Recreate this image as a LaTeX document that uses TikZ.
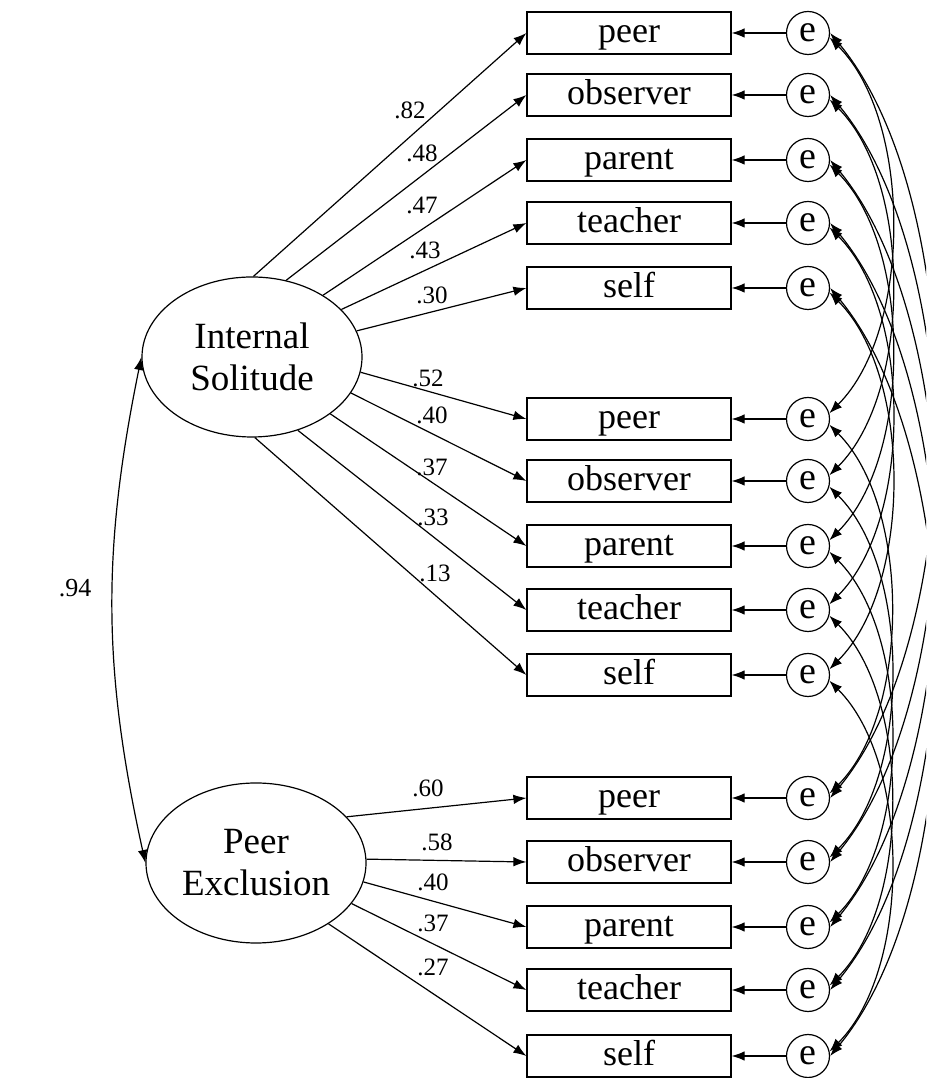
\documentclass[tikz,border=0pt]{standalone}
\usepackage{fontspec}
\setmainfont{Liberation Serif}
\usetikzlibrary{arrows.meta,shapes.geometric}
\begin{document}
\begin{tikzpicture}[x=1pt,y=1pt,
  arr/.style={-{Latex[length=13pt,width=9.5pt]}, line width=1.2pt},
  darr/.style={{Latex[length=13pt,width=9.5pt]}-{Latex[length=13pt,width=9.5pt]}, line width=1.2pt},
  obs/.style={draw, line width=1.2pt, minimum width=204pt, minimum height=42pt, inner sep=0pt, text height=26pt, text depth=7pt, font=\fontsize{36}{42}\selectfont},
  err/.style={draw, circle, line width=1.2pt, minimum size=43pt, inner sep=0pt, font=\fontsize{38}{42}\selectfont},
  lat/.style={draw, ellipse, line width=1.2pt, minimum width=220pt, minimum height=160pt, inner sep=0pt, align=center, font=\fontsize{37}{42}\selectfont},
  lab/.style={font=\fontsize{25}{28}\selectfont, inner sep=0pt},
]
\useasboundingbox (0,0) rectangle (926,1078);
\clip (0,0) rectangle (926,1078);

\node[lat] (IS) at (252,721) {Internal\\Solitude};
\node[lat] (PE) at (256,215) {Peer\\Exclusion};

\foreach \n/\y/\t in {11/1045/peer, 12/983/observer, 13/918/parent, 14/855/teacher, 15/790/self,
                      21/659/peer, 22/597/observer, 23/532/parent, 24/468/teacher, 25/403/self,
                      31/280/peer, 32/216/observer, 33/151/parent, 34/88/teacher, 35/22/self}{
  \node[obs] (b\n) at (629,\y) {\t};
  \node[err] (e\n) at (808,\y) {e};
  \draw[arr] (e\n) -- (b\n);
}

% loadings
\draw[arr] (IS.89) -- (b11.west);
\draw[arr] (IS.66) -- (b12.west);
\draw[arr] (IS.41) -- (b13.west);
\draw[arr] (IS.28) -- (b14.west);
\draw[arr] (IS.14) -- (b15.west);
\draw[arr] (IS.-8) -- (b21.west);
\draw[arr] (IS.-20) -- (b22.west);
\draw[arr] (IS.-36) -- (b23.west);
\draw[arr] (IS.-58) -- (b24.west);
\draw[arr] (IS.-88) -- (b25.west);
\draw[arr] (PE.27) -- (b31.west);
\draw[arr] (PE.2) -- (b32.west);
\draw[arr] (PE.-10) -- (b33.west);
\draw[arr] (PE.-23) -- (b34.west);
\draw[arr] (PE.-40) -- (b35.west);

\node[lab] (l11) at (410,968) {.82};
\node[lab] (l12) at (422,925) {.48};
\node[lab] (l13) at (422,873) {.47};
\node[lab] (l14) at (425,828) {.43};
\node[lab] (l15) at (432,783) {.30};
\node[lab] (l21) at (428,700) {.52};
\node[lab] (l22) at (432,663) {.40};
\node[lab] (l23) at (432,611) {.37};
\node[lab] (l24) at (433,561) {.33};
\node[lab] (l25) at (435,505) {.13};
\node[lab] (l31) at (428,290) {.60};
\node[lab] (l32) at (437,236) {.58};
\node[lab] (l33) at (433,196) {.40};
\node[lab] (l34) at (433,155) {.37};
\node[lab] (l35) at (433,111) {.27};

% factor correlation
\draw[darr] (IS.west) to[bend right=12] (PE.west);
\node[font=\fontsize{26}{30}\selectfont] (r) at (75,490) {.94};

% error covariances
\foreach \i in {1,...,5}{
  \draw[darr] (e1\i.-12) to[out=-45,in=45,looseness=0.8] (e2\i.15);
  \draw[darr] (e2\i.-15) to[out=-45,in=45,looseness=0.8] (e3\i.12);
  \draw[darr] (e1\i.0) to[out=-50,in=50,looseness=0.73] (e3\i.0);
}
\end{tikzpicture}
\end{document}
